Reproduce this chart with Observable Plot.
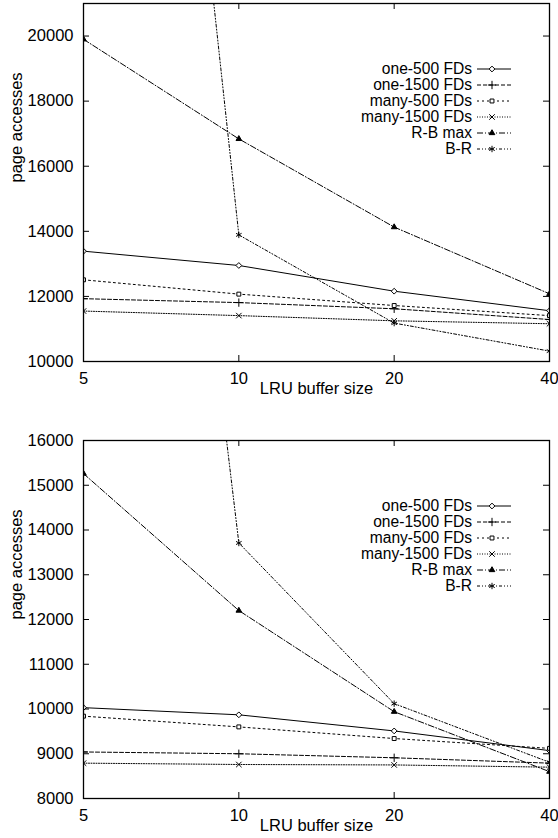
<!DOCTYPE html>
<html><head><meta charset="utf-8">
<script src="https://cdn.jsdelivr.net/npm/d3@7"></script>
<script src="https://cdn.jsdelivr.net/npm/@observablehq/plot@0.6"></script>
<style>
body{margin:0;background:#fff;}
#chart{width:558px;}
#chart svg{display:block;}
</style></head><body><div id="chart"></div>
<script>
// ---- data ----
const bufferSizes = [5, 10, 20, 40];
const seriesNames = ["one-500 FDs", "one-1500 FDs", "many-500 FDs", "many-1500 FDs", "R-B max", "B-R"];

// top panel
const topOne500   = [13390, 12950, 12160, 11560];
const topOne1500  = [11930, 11810, 11620, 11290];
const topMany500  = [12510, 12070, 11720, 11410];
const topMany1500 = [11550, 11410, 11250, 11160];
const topRBmax    = [19900, 16840, 14130, 12080];
const topBR       = [58000, 13890, 11180, 10320];
const topYTicks   = [10000, 12000, 14000, 16000, 18000, 20000];
const topYDomain  = [10000, 21000];

// bottom panel
const botOne500   = [10030, 9870, 9510, 9070];
const botOne1500  = [9040, 9000, 8910, 8790];
const botMany500  = [9840, 9600, 9340, 9120];
const botMany1500 = [8790, 8760, 8750, 8700];
const botRBmax    = [15260, 12200, 9940, 8600];
const botBR       = [42700, 13710, 10120, 8810];
const botYTicks   = [8000, 9000, 10000, 11000, 12000, 13000, 14000, 15000, 16000];
const botYDomain  = [8000, 16000];

const xLabel = "LRU buffer size";
const yLabel = "page accesses";

// ---- styles ----
const seriesStyles = [
  {dash: null,          symbol: "diamond2", fill: "white", r: 2.6},
  {dash: "4,2",         symbol: "plus",     fill: "none",  r: 2.8},
  {dash: "2,3",         symbol: "square2",  fill: "white", r: 2.5},
  {dash: "1,1.5",       symbol: "times",    fill: "none",  r: 2.6},
  {dash: "6,2,1,2",     symbol: "triangle", fill: "black", r: 2.1},
  {dash: "3,2,1,2,1,2", symbol: "asterisk", fill: "none",  r: 3}
];
const d3Symbols = {
  diamond2: d3.symbolDiamond2, plus: d3.symbolPlus, square2: d3.symbolSquare2,
  times: d3.symbolTimes, triangle: d3.symbolTriangle, asterisk: d3.symbolAsterisk
};

const W = 558, ML = 83, MR = 9;
const FONT = "'Liberation Sans', Arial, Helvetica, sans-serif";
const FS = 16.5;
const LEGEND_FS = 15.6;

function panel({series, yDomain, yTicks, height, marginTop, marginBottom}) {
  const pw = W - ML - MR;
  const ph = height - marginTop - marginBottom;
  const tk = 6;
  const rows = series.map((vals, i) => vals.map((v, j) => ({series: seriesNames[i], x: bufferSizes[j], y: v})));

  const lineMarks = rows.map((data, i) => {
    const s = seriesStyles[i];
    return Plot.line(data, {x: "x", y: "y", stroke: "black", strokeWidth: 1, strokeDasharray: s.dash, clip: true});
  });
  const dotMarks = rows.map((data, i) => {
    const s = seriesStyles[i];
    return Plot.dot(data, {x: "x", y: "y", symbol: () => s.symbol, r: s.r, stroke: "black",
      fill: s.fill, strokeWidth: 1, clip: true});
  });

  const legend = (index, scales, values, dims) => {
    const g = d3.create("svg:g")
      .attr("font-family", FONT).attr("font-size", LEGEND_FS).attr("fill", "black");
    const xr = dims.width - dims.marginRight - 77;
    seriesNames.forEach((name, i) => {
      const s = seriesStyles[i];
      const yy = dims.marginTop + 66 + i * 16;
      g.append("text").attr("x", xr).attr("y", yy).attr("dy", "0.35em")
        .attr("text-anchor", "end").text(name);
      g.append("line").attr("x1", xr + 5).attr("x2", xr + 39).attr("y1", yy).attr("y2", yy)
        .attr("stroke", "black").attr("stroke-width", 1)
        .attr("stroke-dasharray", s.dash);
      g.append("path").attr("transform", `translate(${xr + 20},${yy})`)
        .attr("d", d3.symbol(d3Symbols[s.symbol], Math.PI * s.r * s.r)())
        .attr("fill", s.fill).attr("stroke", "black").attr("stroke-width", 1);
    });
    return g.node();
  };

  return Plot.plot({
    width: W, height, marginLeft: ML, marginRight: MR, marginTop, marginBottom,
    style: {fontFamily: FONT, fontSize: FS + "px", background: "white", color: "black"},
    x: {type: "log", domain: [5, 40], label: null},
    y: {domain: yDomain, label: null},
    marks: [
      Plot.axisX(bufferSizes, {tickSize: 0, tickPadding: 11, tickFormat: d => String(d), label: null, fontSize: FS}),
      Plot.axisY(yTicks, {tickSize: 0, tickPadding: 10, tickFormat: d => String(d), label: null, fontSize: FS}),
      Plot.tickY(yTicks, {y: d => d, insetRight: pw - tk, stroke: "black"}),
      Plot.tickY(yTicks, {y: d => d, insetLeft: pw - tk, stroke: "black"}),
      Plot.tickX(bufferSizes, {x: d => d, insetTop: ph - tk, stroke: "black"}),
      Plot.tickX(bufferSizes, {x: d => d, insetBottom: ph - tk, stroke: "black"}),
      ...lineMarks,
      ...dotMarks,
      Plot.frame({stroke: "black", strokeWidth: 1.3}),
      Plot.text([xLabel], {frameAnchor: "bottom", dy: 32, text: d => d, fontSize: FS}),
      Plot.text([yLabel], {frameAnchor: "left", dx: -67, rotate: -90, text: d => d, fontSize: FS}),
      legend
    ]
  });
}

const root = document.getElementById("chart");
root.appendChild(panel({
  series: [topOne500, topOne1500, topMany500, topMany1500, topRBmax, topBR],
  yDomain: topYDomain, yTicks: topYTicks, height: 418, marginTop: 3, marginBottom: 57
}));
root.appendChild(panel({
  series: [botOne500, botOne1500, botMany500, botMany1500, botRBmax, botBR],
  yDomain: botYDomain, yTicks: botYTicks, height: 420, marginTop: 22, marginBottom: 40
}));
</script></body></html>
